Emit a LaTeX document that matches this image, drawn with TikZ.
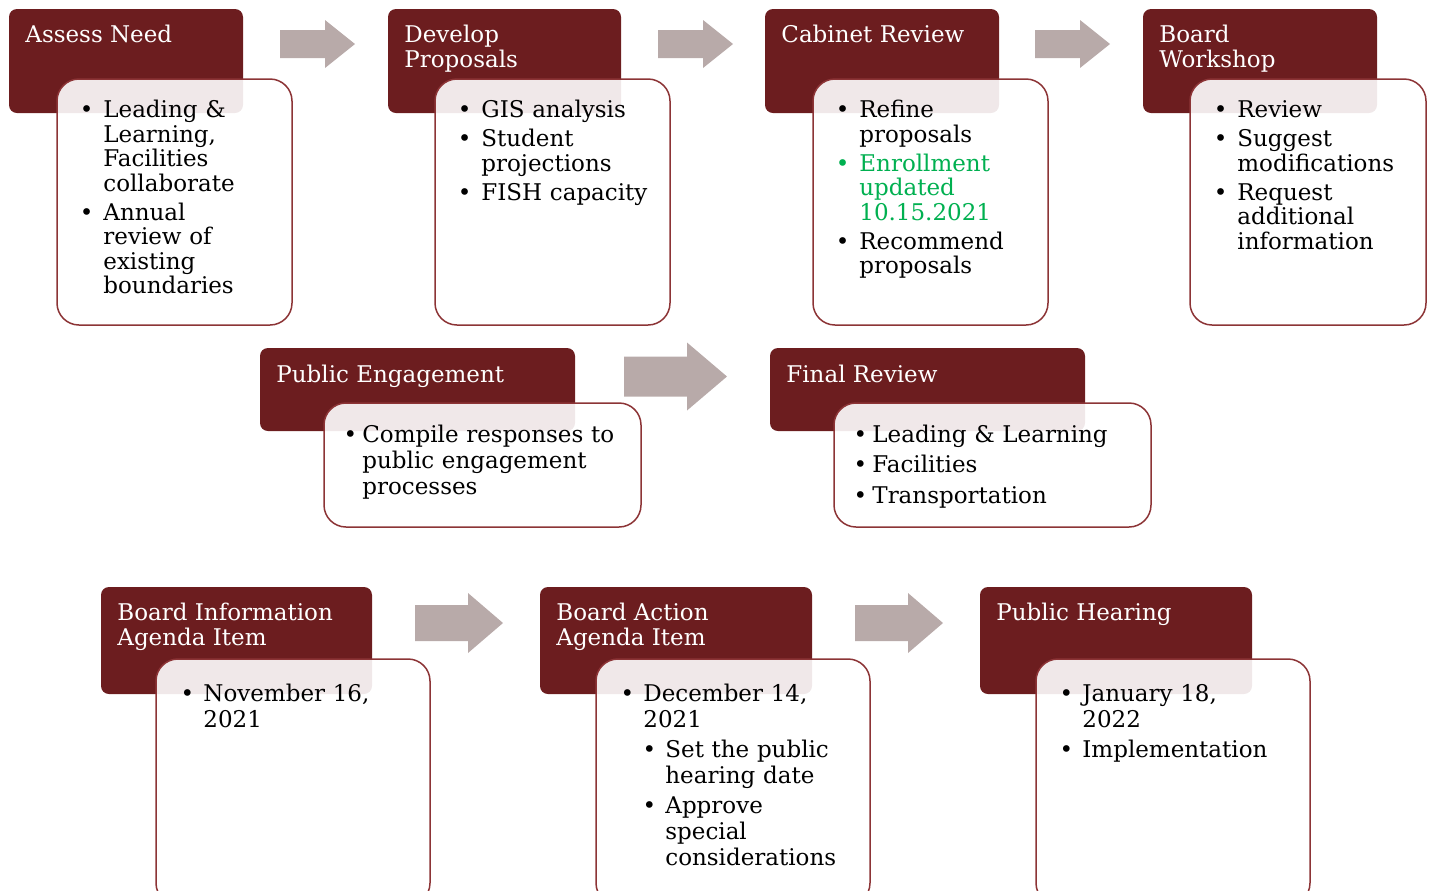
\documentclass[tikz,border=0pt]{standalone}
\usepackage{fontspec}
\setmainfont{DejaVu Serif}
\usepackage{enumitem}
\usepackage{xcolor}
\definecolor{headred}{RGB}{108,29,31}
\definecolor{edgered}{RGB}{140,52,54}
\definecolor{arrowgray}{RGB}{184,170,169}
\definecolor{enrollgreen}{RGB}{0,176,80}
\setlist[itemize]{label=\textbullet, leftmargin=0pt, labelsep=5pt, topsep=0pt, partopsep=0pt, parsep=0pt, itemsep=2.2pt}
\setlist[itemize,2]{label=\textbullet, leftmargin=11pt, labelsep=4.6pt, topsep=2pt}

\begin{document}
\begin{tikzpicture}[x=0.5pt, y=-0.5pt,
    head/.style={fill=headred, rounded corners=4pt},
    card/.style={draw=edgered, line width=0.75pt, fill=white, fill opacity=0.9, rounded corners=11pt},
    headtxt/.style={anchor=north west, inner sep=0pt, align=left, text=white, font=\fontsize{11.5}{12.5}\selectfont},
    cardtxt/.style={anchor=north west, inner sep=0pt, text width=200pt, font=\fontsize{11.5}{12.25}\selectfont},
    cardtxtwide/.style={cardtxt, font=\fontsize{11.5}{13}\selectfont}]
    \clip (0,0) rectangle (1430,890);

    \fill[head] (9,9) rectangle (243,113);
    \fill[head] (388,9) rectangle (621,113);
    \fill[head] (765,9) rectangle (999,113);
    \fill[head] (1143,9) rectangle (1377,113);
    \fill[head] (260,348) rectangle (575,431);
    \fill[head] (770,348) rectangle (1085,431);
    \fill[head] (101,587) rectangle (372,694);
    \fill[head] (540,587) rectangle (812,694);
    \fill[head] (980,587) rectangle (1252,694);

    \draw[card] (57,79) rectangle (292,325);
    \draw[card] (435,79) rectangle (670,325);
    \draw[card] (813,79) rectangle (1048,325);
    \draw[card] (1190,79) rectangle (1426,325);
    \draw[card] (324,403) rectangle (641,527);
    \draw[card] (834,403) rectangle (1151,527);
    \draw[card] (156,659) rectangle (430,905);
    \draw[card] (596,659) rectangle (870,905);
    \draw[card] (1036,659) rectangle (1310,905);

    \foreach \xa/\ya/\len/\hl/\sh/\hh in {280/44/75/30/14/24, 658/44/75/30/14/24, 1035/44/75/30/14/24,
        624/376.5/103/40/20/34, 415/623/88/35/18/30, 855/623/88/35/18/30}
        \fill[arrowgray] (\xa,{\ya-\sh}) -- ({\xa+\len-\hl},{\ya-\sh}) -- ({\xa+\len-\hl},{\ya-\hh})
            -- ({\xa+\len},\ya) -- ({\xa+\len-\hl},{\ya+\hh}) -- ({\xa+\len-\hl},{\ya+\sh}) -- (\xa,{\ya+\sh}) -- cycle;

    \node[headtxt] (assess) at (25,25) {Assess Need};
    \node[headtxt] (develop) at (404,25) {Develop\\Proposals};
    \node[headtxt] (cabinet) at (781,25) {Cabinet Review};
    \node[headtxt] (workshop) at (1159,25) {Board\\Workshop};
    \node[headtxt] (engage) at (276,365) {Public Engagement};
    \node[headtxt] (final) at (786,365) {Final Review};
    \node[headtxt] (boardinfo) at (117,603) {Board Information\\Agenda Item};
    \node[headtxt] (boardaction) at (556,603) {Board Action\\Agenda Item};
    \node[headtxt] (hearing) at (996,603) {Public Hearing};

    \node[cardtxt] (assesslist) at (103,93) {\begin{itemize}
        \item Leading \&\\ Learning,\\ Facilities\\ collaborate
        \item Annual\\ review of\\ existing\\ boundaries
    \end{itemize}};
    \node[cardtxt] (developlist) at (481,93) {\begin{itemize}
        \item GIS analysis
        \item Student\\ projections
        \item FISH capacity
    \end{itemize}};
    \node[cardtxt] (cabinetlist) at (859,93) {\begin{itemize}
        \item Refine\\ proposals
        \item[\color{enrollgreen}\textbullet] {\color{enrollgreen}Enrollment\\ updated\\ 10.15.2021}
        \item Recommend\\ proposals
    \end{itemize}};
    \node[cardtxt] (workshoplist) at (1237,93) {\begin{itemize}
        \item Review
        \item Suggest\\ modifications
        \item Request\\ additional\\ information
    \end{itemize}};
    \node[cardtxtwide] (engagelist) at (362,416) {\begin{itemize}[labelsep=2.6pt]
        \item Compile responses to\\ public engagement\\ processes
    \end{itemize}};
    \node[cardtxtwide] (finallist) at (872,416) {\begin{itemize}[labelsep=2.6pt]
        \item Leading \& Learning
        \item Facilities
        \item Transportation
    \end{itemize}};
    \node[cardtxtwide] (boardinfolist) at (203,675) {\begin{itemize}[labelsep=4.6pt]
        \item November 16,\\ 2021
    \end{itemize}};
    \node[cardtxtwide] (boardactionlist) at (643,675) {\begin{itemize}[labelsep=4.6pt]
        \item December 14,\\ 2021
        \begin{itemize}
            \item Set the public\\ hearing date
            \item Approve\\ special\\ considerations
        \end{itemize}
    \end{itemize}};
    \node[cardtxtwide] (hearinglist) at (1082,675) {\begin{itemize}[labelsep=4.6pt]
        \item January 18,\\ 2022
        \item Implementation
    \end{itemize}};
\end{tikzpicture}
\end{document}
